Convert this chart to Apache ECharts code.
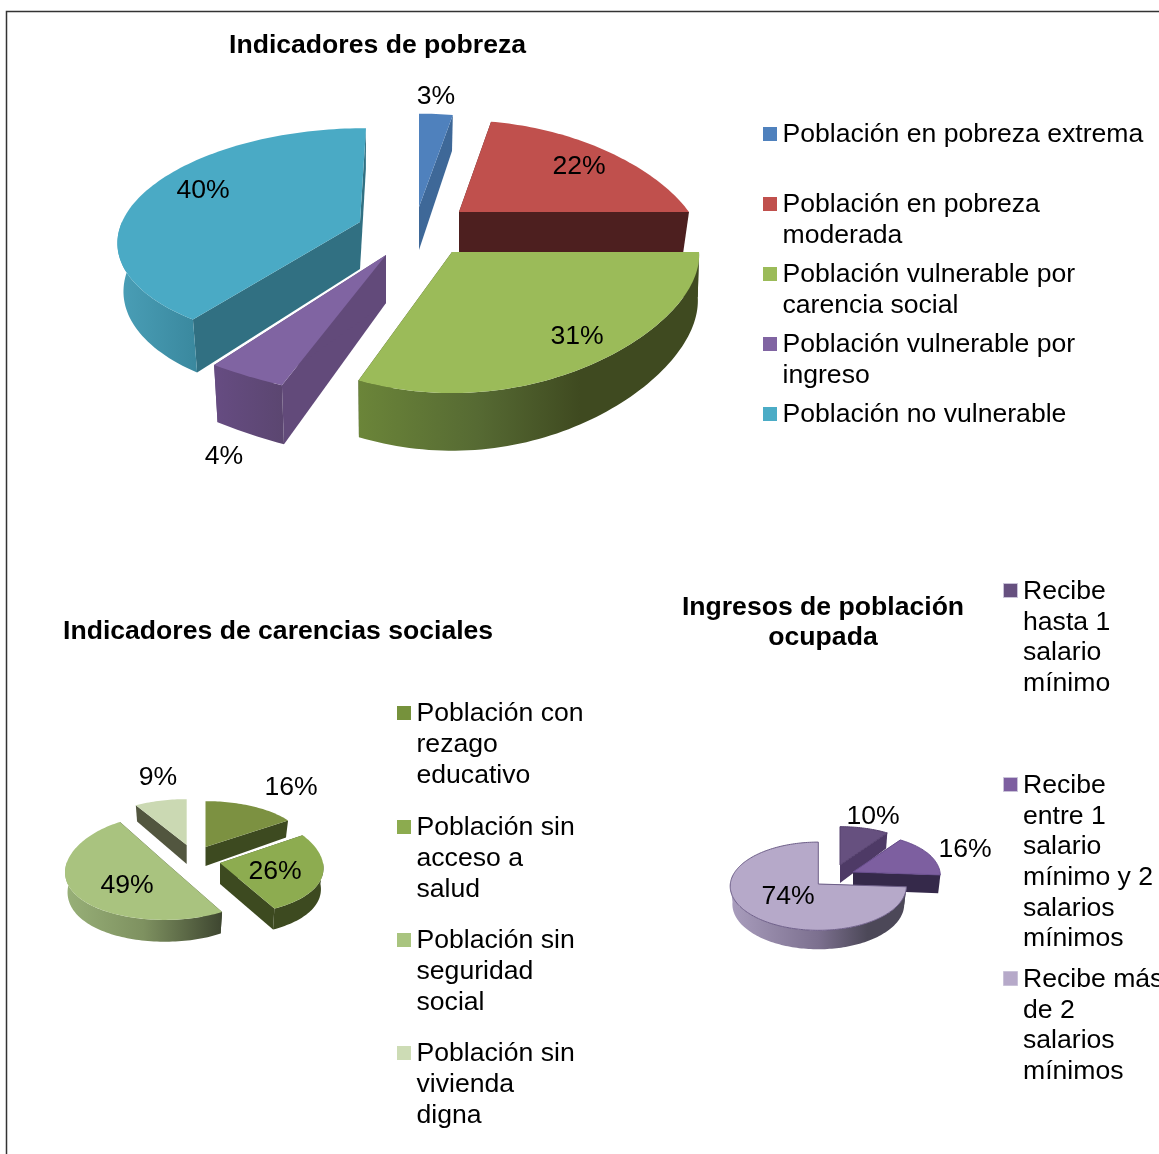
<!DOCTYPE html>
<html>
<head>
<meta charset="utf-8">
<style>html,body{margin:0;padding:0;background:#fff;overflow:hidden}#c{width:1159px;height:1154px}</style>
<script src="https://cdn.jsdelivr.net/npm/echarts@6/dist/echarts.min.js"></script>
</head>
<body>
<div id="c"></div>
<script>
// ---------- data ----------
const povertyNames = ['Población en pobreza extrema', 'Población en pobreza\nmoderada', 'Población vulnerable por\ncarencia social', 'Población vulnerable por\ningreso', 'Población no vulnerable'];
const povertyValues = [3, 22, 31, 4, 40];
const lackNames = ['Población con\nrezago\neducativo', 'Población sin\nacceso a\nsalud', 'Población sin\nseguridad\nsocial', 'Población sin\nvivienda\ndigna'];
const lackValues = [16, 26, 49, 9];
const incomeNames = ['Recibe\nhasta 1\nsalario\nmínimo', 'Recibe\nentre 1\nsalario\nmínimo y 2\nsalarios\nmínimos', 'Recibe más\nde 2\nsalarios\nmínimos'];
const incomeValues = [10, 16, 74];

// ---------- layout and style (apex, projection, depth, colours) ----------
const povertyLook = [
  {ax:419,ay:207,R:232,T:112,kx:.29,ky:.2,D:43,top:'#4f81bd',edge:'#3e6898',swatch:'#4f81bd',label:[436,97],paint:0},
  {ax:459,ay:212,R:230,T:110,kx:.35,ky:.2,D:40,top:'#c0504d',edge:'#4d1f1f',swatch:'#c0504d',label:[579,167],paint:1},
  {ax:452,ay:252,R:247,T:110,kx:.03,ky:.22,D:45,shrink:.995,top:'#9bbb59',edge:'#3f4a20',swatch:'#9bbb59',label:[577,337],paint:4,
    wall:[[0,'#6b8539'],[.35,'#566a33'],[.65,'#3f4a20'],[1,'#3f4a20']]},
  {ax:386,ay:255,R:380,T:114,kx:-.37,ky:.2,D:48,shrink:.98,top:'#8064a2',edge:'#624a7a',swatch:'#8064a2',label:[224,457],paint:3,
    wall:[[0,'#664c82'],[1,'#5b4670']]},
  {ax:360,ay:222,R:238,T:107,kx:.17,ky:.14,D:47,lean:-6,top:'#4aaac5',edge:'#317082',swatch:'#4bacc6',label:[203,191],paint:2,
    wall:[[0,'#4a9fb7'],[1,'#3a889e']]}
];
const lackLook = [
  {ax:205.5,ay:847,R:103,T:55,kx:.1,ky:.2,D:19,top:'#7c9141',edge:'#3d4a20',swatch:'#76923c',label:[291,788],paint:1},
  {ax:220,ay:863,R:103,T:52,kx:.1,ky:0,D:21,top:'#8dac50',edge:'#3d4a20',swatch:'#8cab4f',label:[275,872],paint:3,
    wall:[[0,'#3d4a20'],[1,'#3d4a20']]},
  {ax:165,ay:862,R:98,T:51.7,kx:.197,ky:.107,D:19.5,top:'#a9c37f',edge:'#3e4630',swatch:'#a9c47f',label:[127,886],paint:2,
    wall:[[0,'#98b078'],[.5,'#7e9160'],[1,'#3e4630']]},
  {ax:186.7,ay:845,R:103,T:55,kx:.1,ky:.2,D:19,top:'#cbd9b3',edge:'#52563f',swatch:'#cddcb5',label:[158,778],paint:0}
];
const incomeLook = [
  {ax:840,ay:865,R:87,T:46,kx:.1,ky:.2,D:18,top:'#66507f',edge:'#4e3a66',swatch:'#66507f',label:[873,817],paint:0,line:'#55406e'},
  {ax:853,ay:872,R:87,T:46,kx:.1,ky:.2,D:18,top:'#7d5fa0',edge:'#35294a',swatch:'#7d5fa0',label:[965,850],paint:1,line:'#6b5090'},
  {ax:818.3,ay:884,R:88,T:44,kx:.05,ky:.05,D:18,top:'#b6a9c9',edge:'#4c4858',swatch:'#b6a9c9',label:[788,897],paint:2,line:'#6d5e88',
    wall:[[0,'#a99dbd'],[.5,'#7c708f'],[.78,'#4c4858'],[1,'#4c4858']]}
];
const FONT_SIZE = 26.6;
const FONT = FONT_SIZE + 'px "Liberation Sans", Arial, sans-serif';
const LINE = 30.7;

// ---------- geometry: angles come only from the values ----------
const rad = d => d * Math.PI / 180;
function rimPoint(theta, g) {
  const u = Math.sin(rad(theta)), v = -Math.cos(rad(theta));
  return {x: g.R * u / (1 - g.kx * v) + (g.lean || 0) * v, y: g.T * v / (1 - g.ky * v), d: g.D / (1 - g.ky * v)};
}
function topPt(p, g) { return [g.ax + p.x, g.ay + p.y]; }
function botPt(p, g) { return [g.ax + p.x * (g.shrink || 0.975), g.ay + p.y + p.d]; }
function arc(a, b) {
  const out = [], n = Math.max(2, Math.ceil((b - a) / 1.5));
  for (let i = 0; i <= n; i++) out.push(a + (b - a) * i / n);
  return out;
}
function sliceItem(a, b, value, g) {
  const children = [];
  const ap = {x: 0, y: 0, d: g.D};
  // the two straight cut faces
  [a, b].forEach(t => {
    const r = rimPoint(t, g);
    children.push({type: 'polygon', shape: {points: [topPt(ap, g), topPt(r, g), botPt(r, g), botPt(ap, g)]}, style: {fill: g.edge}});
  });
  // outer wall, front half only
  const wa = Math.max(a, 90), wb = Math.min(b, 270);
  if (g.wall && wb > wa) {
    const th = arc(wa, wb);
    const pts = th.map(t => topPt(rimPoint(t, g), g)).concat(th.slice().reverse().map(t => botPt(rimPoint(t, g), g)));
    children.push({type: 'polygon', shape: {points: pts}, style: {
      fill: {type: 'linear', x: 0, y: 0, x2: 1, y2: 0,
        colorStops: g.wall.map(s => ({offset: s[0], color: s[1]}))}
    }});
  }
  // top face
  const facePts = [topPt(ap, g)].concat(arc(a, b).map(t => topPt(rimPoint(t, g), g)));
  children.push({type: 'polygon', shape: {points: facePts}, style: g.line ? {fill: g.top, stroke: g.line, lineWidth: 1} : {fill: g.top}});
  children.push({type: 'text', x: g.label[0], y: g.label[1], style: {text: value + '%', font: FONT, fill: '#000', align: 'center', verticalAlign: 'middle'}});
  return {type: 'group', children};
}
function pieSeries(names, values, looks) {
  const total = values.reduce((s, v) => s + v, 0);
  let acc = 0;
  return values.map((v, i) => {
    const a = acc / total * 360; acc += v;
    const b = acc / total * 360;
    return {
      type: 'custom', name: names[i], coordinateSystem: 'none', silent: true, animation: false,
      clip: false, z: 2 + looks[i].paint,
      itemStyle: {color: looks[i].swatch},
      data: [[v]],
      renderItem: () => sliceItem(a, b, v, looks[i])
    };
  });
}
function legendIcon(lines) {
  const H = lines * LINE, m = LINE / 2 - 1;
  return `path://M0 0L0 0M0 ${m - 7}L14 ${m - 7}L14 ${m + 7}L0 ${m + 7}ZM0 ${H}L0 ${H}`;
}
function legendEntry(name, x, firstLineY, swatch, border) {
  const lines = name.split('\n').length;
  return {
    show: true, left: x, top: firstLineY - LINE / 2, padding: 0, selectedMode: false, orient: 'vertical',
    itemWidth: 15, itemHeight: lines * LINE,
    icon: legendIcon(lines),
    itemStyle: border ? {color: swatch, borderColor: border, borderWidth: 1} : {color: swatch, borderWidth: 0},
    data: [{name}],
    textStyle: {fontFamily: '"Liberation Sans", Arial, sans-serif', fontSize: FONT_SIZE, color: '#000', lineHeight: LINE}
  };
}
const legendRows = [
  [povertyNames, povertyLook, 763, [135, 205, 275, 345, 415]],
  [lackNames, lackLook, 397, [714, 828, 941, 1054]],
  [incomeNames, incomeLook, 1003, [591, 785, 979]]
];
const legends = [];
legendRows.forEach(([names, looks, x, ys], r) => names.forEach((n, i) =>
  legends.push(legendEntry(n, x, ys[i], looks[i].swatch, r === 2 ? '#c9c2d8' : null))));

const titleStyle = {fontFamily: '"Liberation Sans", Arial, sans-serif', fontSize: FONT_SIZE, fontWeight: 'bold', color: '#000', lineHeight: 30};
const chart = echarts.init(document.getElementById('c'), null, {renderer: 'canvas'});
chart.setOption({
  animation: false,
  backgroundColor: '#fff',
  title: [
    {text: 'Indicadores de pobreza', left: 229, top: 31, padding: 0, textStyle: titleStyle},
    {text: 'Indicadores de carencias sociales', left: 63, top: 617, padding: 0, textStyle: titleStyle},
    {text: 'Ingresos de población\nocupada', left: 823, top: 593, padding: 0, textAlign: 'center', textStyle: titleStyle}
  ],
  legend: legends,
  graphic: [{type: 'polyline', silent: true, shape: {points: [[6.5, 1154], [6.5, 11.5], [1159, 11.5]]}, style: {stroke: '#333', lineWidth: 1.5, fill: null}}],
  series: [].concat(
    pieSeries(povertyNames, povertyValues, povertyLook),
    pieSeries(lackNames, lackValues, lackLook),
    pieSeries(incomeNames, incomeValues, incomeLook)
  )
});
</script>
</body>
</html>
